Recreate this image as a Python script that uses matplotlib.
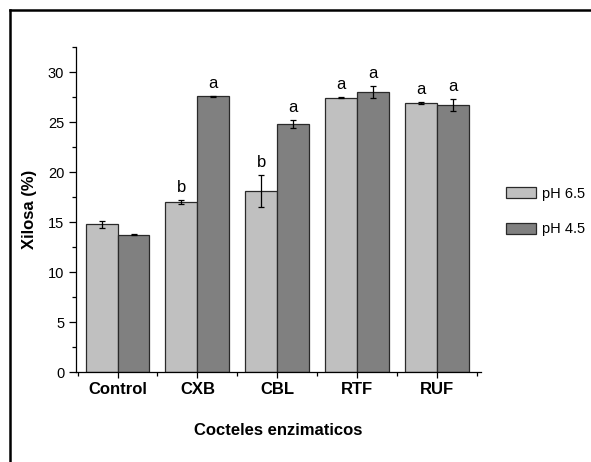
import numpy as np
import matplotlib.pyplot as plt
from matplotlib.ticker import MultipleLocator, FixedLocator
from matplotlib.lines import Line2D

plt.rcParams['font.family'] = ['Liberation Sans', 'DejaVu Sans']

# Datos
cocteles = ['Control', 'CXB', 'CBL', 'RTF', 'RUF']
ph65 = [14.8, 17.0, 18.1, 27.45, 26.9]
ph65_err = [0.35, 0.23, 1.6, 0.05, 0.08]
ph45 = [13.75, 27.6, 24.8, 28.0, 26.75]
ph45_err = [0.08, 0.05, 0.43, 0.57, 0.6]
letras65 = ['', 'b', 'b', 'a', 'a']
letras45 = ['', 'a', 'a', 'a', 'a']

x = np.arange(len(cocteles))
w = 0.4

fig = plt.figure(figsize=(5.91, 4.62), dpi=100)
ax = fig.add_axes([76/591, 1 - 372/462, 405/591, 325/462])

err_kw = dict(ecolor='black', elinewidth=0.9, capsize=2.5, capthick=0.9)
b1 = ax.bar(x - w/2, ph65, w, yerr=ph65_err, color='#c0c0c0', edgecolor='#2a2a2a',
            linewidth=0.9, error_kw=err_kw, label='pH 6.5')
b2 = ax.bar(x + w/2, ph45, w, yerr=ph45_err, color='#808080', edgecolor='#2a2a2a',
            linewidth=0.9, error_kw=err_kw, label='pH 4.5')

# letras de significancia
for i in range(len(cocteles)):
    if letras65[i]:
        ax.annotate(letras65[i], (x[i] - w/2, ph65[i] + ph65_err[i]), xytext=(0, 3.5),
                    textcoords='offset points', ha='center', va='bottom', fontsize=12)
    if letras45[i]:
        ax.annotate(letras45[i], (x[i] + w/2, ph45[i] + ph45_err[i]), xytext=(0, 3.5),
                    textcoords='offset points', ha='center', va='bottom', fontsize=12)

ax.set_xlim(-0.52, 4.55)
ax.set_ylim(0, 32.5)
ax.set_xticks(x)
ax.set_xticklabels(cocteles, fontsize=12, fontweight='bold')
ax.xaxis.set_minor_locator(FixedLocator([-0.5, 0.5, 1.5, 2.5, 3.5, 4.5]))
ax.yaxis.set_major_locator(MultipleLocator(5))
ax.yaxis.set_minor_locator(MultipleLocator(2.5))
ax.tick_params(axis='y', which='major', labelsize=10.5, length=5, width=0.9, direction='out')
ax.tick_params(axis='both', which='minor', length=3, width=0.9, direction='out')
ax.tick_params(axis='x', which='major', length=4, width=0.9, direction='out', pad=3)
for s in ['top', 'right']:
    ax.spines[s].set_visible(False)
for s in ['left', 'bottom']:
    ax.spines[s].set_linewidth(0.9)

ax.set_xlabel('Cocteles enzimaticos', fontsize=12, fontweight='bold', labelpad=19)
ax.set_ylabel('Xilosa (%)', fontsize=12, fontweight='bold', labelpad=8)

fig.legend(handles=[b1, b2], labels=['pH 6.5', 'pH 4.5'], loc='center left',
           bbox_to_anchor=(500/591, 1 - 211.5/462), frameon=False, fontsize=10.5,
           handlelength=2.1, handleheight=0.8, handletextpad=0.35, labelspacing=1.5,
           borderaxespad=0)

# marco exterior
fig.add_artist(Line2D([10/591, 10/591], [0, 1 - 10/462], color='black', lw=1.8,
                      transform=fig.transFigure))
fig.add_artist(Line2D([10/591, 1], [1 - 10/462, 1 - 10/462], color='black', lw=1.8,
                      transform=fig.transFigure))

fig.savefig('out.png', dpi=100)
